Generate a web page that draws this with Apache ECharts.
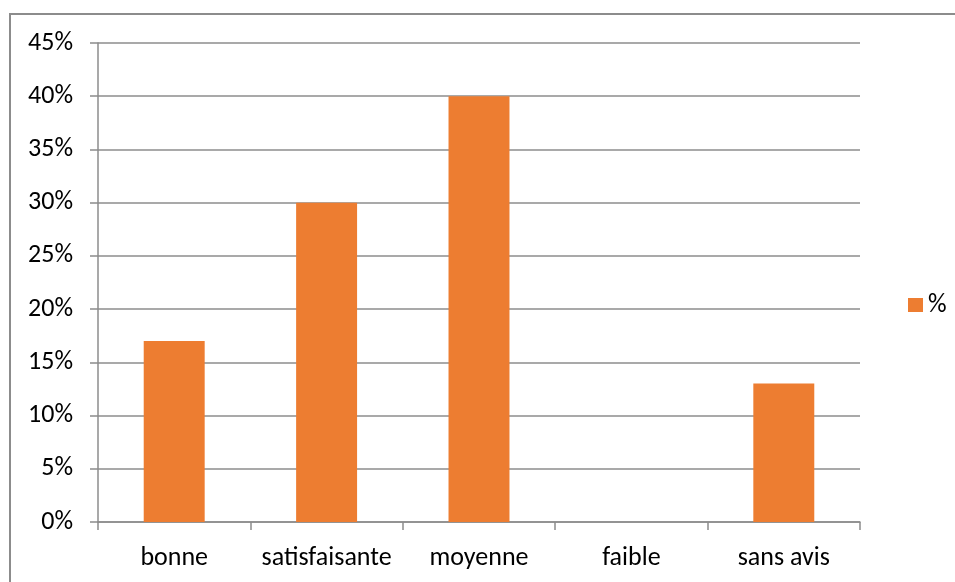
<!DOCTYPE html>
<html>
<head>
<meta charset="utf-8">
<script src="https://cdn.jsdelivr.net/npm/echarts@6/dist/echarts.min.js"></script>
<style>
  html, body { margin: 0; padding: 0; background: #fff; }
  #chart { width: 955px; height: 582px; }
</style>
</head>
<body>
<div id="chart"></div>
<script>
// Appreciation categories and their share (%)
const categories = ['bonne', 'satisfaisante', 'moyenne', 'faible', 'sans avis'];
const seriesName = '%';
const values = [17, 30, 40, 0, 13];
const yMax = 45;
const yStep = 5;

const FONT = 'Carlito, Lato, "Liberation Sans", sans-serif';
const FONT_SIZE = 26;
const AXIS_GRAY = '#8c8c8c';

const chart = echarts.init(document.getElementById('chart'));
chart.setOption({
  backgroundColor: '#ffffff',
  animation: false,
  textStyle: { fontFamily: FONT },
  graphic: [{
    type: 'rect',
    shape: { x: 10, y: 14, width: 1200, height: 1200 },
    style: { fill: 'none', stroke: AXIS_GRAY, lineWidth: 2 },
    silent: true
  }],
  grid: { left: 98, right: 95, top: 43, bottom: 60, containLabel: false },
  legend: {
    data: [seriesName],
    orient: 'vertical',
    left: 903,
    top: 287,
    icon: 'rect',
    itemWidth: 15,
    itemHeight: 14,
    itemGap: 6,
    textStyle: { fontFamily: FONT, fontSize: FONT_SIZE, color: '#000' }
  },
  xAxis: {
    type: 'category',
    data: categories,
    axisLine: { lineStyle: { color: AXIS_GRAY, width: 1.5 } },
    axisTick: { show: true, length: 8, alignWithLabel: false, lineStyle: { color: AXIS_GRAY, width: 1.5 } },
    axisLabel: { margin: 23, fontSize: FONT_SIZE, color: '#000', fontFamily: FONT, interval: 0 },
    splitLine: { show: false }
  },
  yAxis: {
    type: 'value',
    min: 0,
    max: yMax,
    interval: yStep,
    axisLine: { show: true, lineStyle: { color: AXIS_GRAY, width: 1.5 } },
    axisTick: { show: true, length: 8, lineStyle: { color: AXIS_GRAY, width: 1.5 } },
    axisLabel: { formatter: '{value}%', margin: 25, fontSize: FONT_SIZE, color: '#000', fontFamily: FONT },
    splitLine: { show: true, lineStyle: { color: AXIS_GRAY, width: 1.5 } }
  },
  series: [{
    name: seriesName,
    type: 'bar',
    data: values,
    barWidth: '40%',
    itemStyle: { color: '#ED7D31' }
  }]
});
</script>
</body>
</html>
